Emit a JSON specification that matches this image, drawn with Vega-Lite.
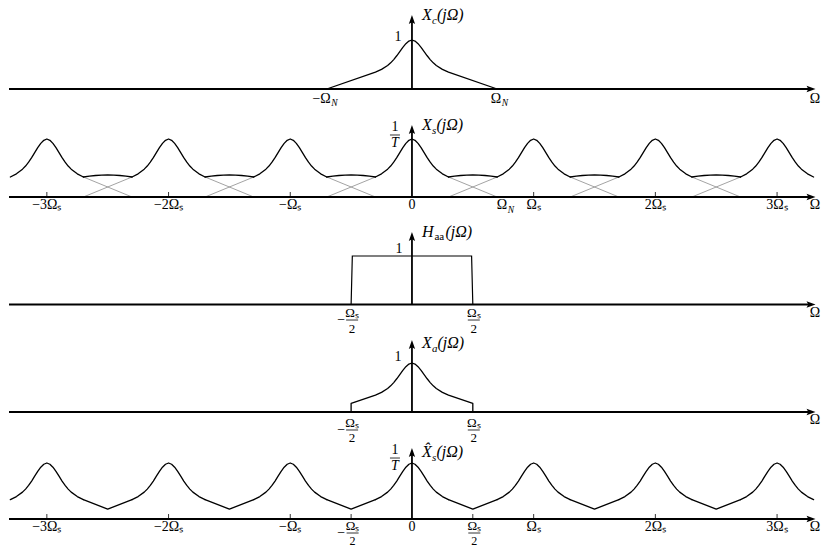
{
"$schema": "https://vega.github.io/schema/vega-lite/v6.json",
"padding": 0,
"spacing": 0,
"bounds": "flush",
"background": "white",
"config": {"view": {"stroke": null}, "font": "Liberation Serif", "mark": {"font": "Liberation Serif"}, "text": {"font": "Liberation Serif", "color": "black", "fill": "black"}},
"datasets": {
"c1": [{"w":-0.7,"v":0},{"w":-0.3,"v":0.345},{"w":-0.25,"v":0.4},{"w":-0.2,"v":0.48},{"w":-0.175,"v":0.534},{"w":-0.15,"v":0.6},{"w":-0.125,"v":0.678},{"w":-0.1,"v":0.765},{"w":-0.075,"v":0.85},{"w":-0.05,"v":0.925},{"w":-0.025,"v":0.978},{"w":0,"v":1},{"w":0.025,"v":0.978},{"w":0.05,"v":0.925},{"w":0.075,"v":0.85},{"w":0.1,"v":0.765},{"w":0.125,"v":0.678},{"w":0.15,"v":0.6},{"w":0.175,"v":0.534},{"w":0.2,"v":0.48},{"w":0.25,"v":0.4},{"w":0.3,"v":0.345},{"w":0.7,"v":0}],
"c3": [{"w":-0.5,"v":0},{"w":-0.49,"v":1},{"w":0.49,"v":1},{"w":0.5,"v":0}],
"c4": [{"w":-0.5,"v":0},{"w":-0.5,"v":0.175},{"w":-0.3,"v":0.345},{"w":-0.25,"v":0.4},{"w":-0.2,"v":0.48},{"w":-0.175,"v":0.534},{"w":-0.15,"v":0.6},{"w":-0.125,"v":0.678},{"w":-0.1,"v":0.765},{"w":-0.075,"v":0.85},{"w":-0.05,"v":0.925},{"w":-0.025,"v":0.978},{"w":0,"v":1},{"w":0.025,"v":0.978},{"w":0.05,"v":0.925},{"w":0.075,"v":0.85},{"w":0.1,"v":0.765},{"w":0.125,"v":0.678},{"w":0.15,"v":0.6},{"w":0.175,"v":0.534},{"w":0.2,"v":0.48},{"w":0.25,"v":0.4},{"w":0.3,"v":0.345},{"w":0.5,"v":0.175},{"w":0.5,"v":0}],
"rep": [
{"k":-3,"w":-3.3,"v":0.345},{"k":-3,"w":-3.25,"v":0.4},{"k":-3,"w":-3.2,"v":0.48},{"k":-3,"w":-3.175,"v":0.534},{"k":-3,"w":-3.15,"v":0.6},{"k":-3,"w":-3.125,"v":0.678},{"k":-3,"w":-3.1,"v":0.765},{"k":-3,"w":-3.075,"v":0.85},{"k":-3,"w":-3.05,"v":0.925},{"k":-3,"w":-3.025,"v":0.978},{"k":-3,"w":-3,"v":1},{"k":-3,"w":-2.975,"v":0.978},{"k":-3,"w":-2.95,"v":0.925},{"k":-3,"w":-2.925,"v":0.85},{"k":-3,"w":-2.9,"v":0.765},{"k":-3,"w":-2.875,"v":0.678},{"k":-3,"w":-2.85,"v":0.6},{"k":-3,"w":-2.825,"v":0.534},{"k":-3,"w":-2.8,"v":0.48},{"k":-3,"w":-2.75,"v":0.4},{"k":-3,"w":-2.7,"v":0.345},
{"k":-2,"w":-2.3,"v":0.345},{"k":-2,"w":-2.25,"v":0.4},{"k":-2,"w":-2.2,"v":0.48},{"k":-2,"w":-2.175,"v":0.534},{"k":-2,"w":-2.15,"v":0.6},{"k":-2,"w":-2.125,"v":0.678},{"k":-2,"w":-2.1,"v":0.765},{"k":-2,"w":-2.075,"v":0.85},{"k":-2,"w":-2.05,"v":0.925},{"k":-2,"w":-2.025,"v":0.978},{"k":-2,"w":-2,"v":1},{"k":-2,"w":-1.975,"v":0.978},{"k":-2,"w":-1.95,"v":0.925},{"k":-2,"w":-1.925,"v":0.85},{"k":-2,"w":-1.9,"v":0.765},{"k":-2,"w":-1.875,"v":0.678},{"k":-2,"w":-1.85,"v":0.6},{"k":-2,"w":-1.825,"v":0.534},{"k":-2,"w":-1.8,"v":0.48},{"k":-2,"w":-1.75,"v":0.4},{"k":-2,"w":-1.7,"v":0.345},
{"k":-1,"w":-1.3,"v":0.345},{"k":-1,"w":-1.25,"v":0.4},{"k":-1,"w":-1.2,"v":0.48},{"k":-1,"w":-1.175,"v":0.534},{"k":-1,"w":-1.15,"v":0.6},{"k":-1,"w":-1.125,"v":0.678},{"k":-1,"w":-1.1,"v":0.765},{"k":-1,"w":-1.075,"v":0.85},{"k":-1,"w":-1.05,"v":0.925},{"k":-1,"w":-1.025,"v":0.978},{"k":-1,"w":-1,"v":1},{"k":-1,"w":-0.975,"v":0.978},{"k":-1,"w":-0.95,"v":0.925},{"k":-1,"w":-0.925,"v":0.85},{"k":-1,"w":-0.9,"v":0.765},{"k":-1,"w":-0.875,"v":0.678},{"k":-1,"w":-0.85,"v":0.6},{"k":-1,"w":-0.825,"v":0.534},{"k":-1,"w":-0.8,"v":0.48},{"k":-1,"w":-0.75,"v":0.4},{"k":-1,"w":-0.7,"v":0.345},
{"k":0,"w":-0.3,"v":0.345},{"k":0,"w":-0.25,"v":0.4},{"k":0,"w":-0.2,"v":0.48},{"k":0,"w":-0.175,"v":0.534},{"k":0,"w":-0.15,"v":0.6},{"k":0,"w":-0.125,"v":0.678},{"k":0,"w":-0.1,"v":0.765},{"k":0,"w":-0.075,"v":0.85},{"k":0,"w":-0.05,"v":0.925},{"k":0,"w":-0.025,"v":0.978},{"k":0,"w":0,"v":1},{"k":0,"w":0.025,"v":0.978},{"k":0,"w":0.05,"v":0.925},{"k":0,"w":0.075,"v":0.85},{"k":0,"w":0.1,"v":0.765},{"k":0,"w":0.125,"v":0.678},{"k":0,"w":0.15,"v":0.6},{"k":0,"w":0.175,"v":0.534},{"k":0,"w":0.2,"v":0.48},{"k":0,"w":0.25,"v":0.4},{"k":0,"w":0.3,"v":0.345},
{"k":1,"w":0.7,"v":0.345},{"k":1,"w":0.75,"v":0.4},{"k":1,"w":0.8,"v":0.48},{"k":1,"w":0.825,"v":0.534},{"k":1,"w":0.85,"v":0.6},{"k":1,"w":0.875,"v":0.678},{"k":1,"w":0.9,"v":0.765},{"k":1,"w":0.925,"v":0.85},{"k":1,"w":0.95,"v":0.925},{"k":1,"w":0.975,"v":0.978},{"k":1,"w":1,"v":1},{"k":1,"w":1.025,"v":0.978},{"k":1,"w":1.05,"v":0.925},{"k":1,"w":1.075,"v":0.85},{"k":1,"w":1.1,"v":0.765},{"k":1,"w":1.125,"v":0.678},{"k":1,"w":1.15,"v":0.6},{"k":1,"w":1.175,"v":0.534},{"k":1,"w":1.2,"v":0.48},{"k":1,"w":1.25,"v":0.4},{"k":1,"w":1.3,"v":0.345},
{"k":2,"w":1.7,"v":0.345},{"k":2,"w":1.75,"v":0.4},{"k":2,"w":1.8,"v":0.48},{"k":2,"w":1.825,"v":0.534},{"k":2,"w":1.85,"v":0.6},{"k":2,"w":1.875,"v":0.678},{"k":2,"w":1.9,"v":0.765},{"k":2,"w":1.925,"v":0.85},{"k":2,"w":1.95,"v":0.925},{"k":2,"w":1.975,"v":0.978},{"k":2,"w":2,"v":1},{"k":2,"w":2.025,"v":0.978},{"k":2,"w":2.05,"v":0.925},{"k":2,"w":2.075,"v":0.85},{"k":2,"w":2.1,"v":0.765},{"k":2,"w":2.125,"v":0.678},{"k":2,"w":2.15,"v":0.6},{"k":2,"w":2.175,"v":0.534},{"k":2,"w":2.2,"v":0.48},{"k":2,"w":2.25,"v":0.4},{"k":2,"w":2.3,"v":0.345},
{"k":3,"w":2.7,"v":0.345},{"k":3,"w":2.75,"v":0.4},{"k":3,"w":2.8,"v":0.48},{"k":3,"w":2.825,"v":0.534},{"k":3,"w":2.85,"v":0.6},{"k":3,"w":2.875,"v":0.678},{"k":3,"w":2.9,"v":0.765},{"k":3,"w":2.925,"v":0.85},{"k":3,"w":2.95,"v":0.925},{"k":3,"w":2.975,"v":0.978},{"k":3,"w":3,"v":1},{"k":3,"w":3.025,"v":0.978},{"k":3,"w":3.05,"v":0.925},{"k":3,"w":3.075,"v":0.85},{"k":3,"w":3.1,"v":0.765},{"k":3,"w":3.125,"v":0.678},{"k":3,"w":3.15,"v":0.6},{"k":3,"w":3.175,"v":0.534},{"k":3,"w":3.2,"v":0.48},{"k":3,"w":3.25,"v":0.4},{"k":3,"w":3.3,"v":0.345}
],
"arc": [
{"g":-3,"w":-2.7,"v":0.345},{"g":-3,"w":-2.65,"v":0.36},{"g":-3,"w":-2.6,"v":0.371},{"g":-3,"w":-2.55,"v":0.378},{"g":-3,"w":-2.5,"v":0.38},{"g":-3,"w":-2.45,"v":0.378},{"g":-3,"w":-2.4,"v":0.371},{"g":-3,"w":-2.35,"v":0.36},{"g":-3,"w":-2.3,"v":0.345},
{"g":-2,"w":-1.7,"v":0.345},{"g":-2,"w":-1.65,"v":0.36},{"g":-2,"w":-1.6,"v":0.371},{"g":-2,"w":-1.55,"v":0.378},{"g":-2,"w":-1.5,"v":0.38},{"g":-2,"w":-1.45,"v":0.378},{"g":-2,"w":-1.4,"v":0.371},{"g":-2,"w":-1.35,"v":0.36},{"g":-2,"w":-1.3,"v":0.345},
{"g":-1,"w":-0.7,"v":0.345},{"g":-1,"w":-0.65,"v":0.36},{"g":-1,"w":-0.6,"v":0.371},{"g":-1,"w":-0.55,"v":0.378},{"g":-1,"w":-0.5,"v":0.38},{"g":-1,"w":-0.45,"v":0.378},{"g":-1,"w":-0.4,"v":0.371},{"g":-1,"w":-0.35,"v":0.36},{"g":-1,"w":-0.3,"v":0.345},
{"g":0,"w":0.3,"v":0.345},{"g":0,"w":0.35,"v":0.36},{"g":0,"w":0.4,"v":0.371},{"g":0,"w":0.45,"v":0.378},{"g":0,"w":0.5,"v":0.38},{"g":0,"w":0.55,"v":0.378},{"g":0,"w":0.6,"v":0.371},{"g":0,"w":0.65,"v":0.36},{"g":0,"w":0.7,"v":0.345},
{"g":1,"w":1.3,"v":0.345},{"g":1,"w":1.35,"v":0.36},{"g":1,"w":1.4,"v":0.371},{"g":1,"w":1.45,"v":0.378},{"g":1,"w":1.5,"v":0.38},{"g":1,"w":1.55,"v":0.378},{"g":1,"w":1.6,"v":0.371},{"g":1,"w":1.65,"v":0.36},{"g":1,"w":1.7,"v":0.345},
{"g":2,"w":2.3,"v":0.345},{"g":2,"w":2.35,"v":0.36},{"g":2,"w":2.4,"v":0.371},{"g":2,"w":2.45,"v":0.378},{"g":2,"w":2.5,"v":0.38},{"g":2,"w":2.55,"v":0.378},{"g":2,"w":2.6,"v":0.371},{"g":2,"w":2.65,"v":0.36},{"g":2,"w":2.7,"v":0.345}
],
"dip": [
{"g":-3,"w":-2.7,"v":0.345},{"g":-3,"w":-2.5,"v":0.175},{"g":-3,"w":-2.3,"v":0.345},
{"g":-2,"w":-1.7,"v":0.345},{"g":-2,"w":-1.5,"v":0.175},{"g":-2,"w":-1.3,"v":0.345},
{"g":-1,"w":-0.7,"v":0.345},{"g":-1,"w":-0.5,"v":0.175},{"g":-1,"w":-0.3,"v":0.345},
{"g":0,"w":0.3,"v":0.345},{"g":0,"w":0.5,"v":0.175},{"g":0,"w":0.7,"v":0.345},
{"g":1,"w":1.3,"v":0.345},{"g":1,"w":1.5,"v":0.175},{"g":1,"w":1.7,"v":0.345},
{"g":2,"w":2.3,"v":0.345},{"g":2,"w":2.5,"v":0.175},{"g":2,"w":2.7,"v":0.345}
],
"gray": [
{"s":"a-3","w":-2.7,"v":0.345},{"s":"a-3","w":-2.3,"v":0},{"s":"b-3","w":-2.7,"v":0},{"s":"b-3","w":-2.3,"v":0.345},
{"s":"a-2","w":-1.7,"v":0.345},{"s":"a-2","w":-1.3,"v":0},{"s":"b-2","w":-1.7,"v":0},{"s":"b-2","w":-1.3,"v":0.345},
{"s":"a-1","w":-0.7,"v":0.345},{"s":"a-1","w":-0.3,"v":0},{"s":"b-1","w":-0.7,"v":0},{"s":"b-1","w":-0.3,"v":0.345},
{"s":"a0","w":0.3,"v":0.345},{"s":"a0","w":0.7,"v":0},{"s":"b0","w":0.3,"v":0},{"s":"b0","w":0.7,"v":0.345},
{"s":"a1","w":1.3,"v":0.345},{"s":"a1","w":1.7,"v":0},{"s":"b1","w":1.3,"v":0},{"s":"b1","w":1.7,"v":0.345},
{"s":"a2","w":2.3,"v":0.345},{"s":"a2","w":2.7,"v":0},{"s":"b2","w":2.3,"v":0},{"s":"b2","w":2.7,"v":0.345}
]
},
"vconcat": [
{
"width": 821, "height": 108,
"encoding": {
"x": {"field":"w","type":"quantitative","scale":{"domain":[-3.385,3.361],"nice":false,"zero":false},"axis":null},
"y": {"field":"v","type":"quantitative","scale":{"domain":[-0.3878,1.8163],"nice":false,"zero":false},"axis":null}
},
"layer": [
{"data":{"name":"c1"},"mark":{"type":"line","color":"black","strokeWidth":1.3,"strokeJoin":"round"}},
{"data":{"values":[{"w":-3.311,"w2":3.28,"v":0}]},"mark":{"type":"rule","color":"black","strokeWidth":1.8},"encoding":{"x2":{"field":"w2"}}},
{"data":{"values":[{"w":0,"v":0,"v2":1.418}]},"mark":{"type":"rule","color":"black","strokeWidth":1.8},"encoding":{"y2":{"field":"v2"}}},
{"data":{"values":[{"w":0,"v":1.418}]},"mark":{"type":"point","shape":"M0,-1L0.7,1L0,0.6L-0.7,1Z","filled":true,"color":"black","opacity":1,"size":81}},
{"data":{"values":[{"w":3.279,"v":0}]},"mark":{"type":"point","shape":"M1,0L-1,0.7L-0.6,0L-1,-0.7Z","filled":true,"color":"black","opacity":1,"size":81}},
{"data":{"values":[{"w":0,"v":1.061,"t":"1"}]},"mark":{"type":"text","font":"Liberation Serif","color":"black","align":"center","baseline":"middle","dx":-14,"fontSize":14},"encoding":{"text":{"field":"t"}}},
{"data":{"values":[{"w":0,"v":1.51,"t":"X"}]},"mark":{"type":"text","font":"Liberation Serif","color":"black","align":"left","baseline":"middle","dx":10,"fontSize":16,"fontStyle":"italic"},"encoding":{"text":{"field":"t"}}},
{"data":{"values":[{"w":0,"v":1.51,"t":"c"}]},"mark":{"type":"text","font":"Liberation Serif","color":"black","align":"left","baseline":"middle","dx":20,"dy":5.5,"fontSize":11,"fontStyle":"italic"},"encoding":{"text":{"field":"t"}}},
{"data":{"values":[{"w":0,"v":1.51,"t":"(jΩ)"}]},"mark":{"type":"text","font":"Liberation Serif","color":"black","align":"left","baseline":"middle","dx":25,"fontSize":16,"fontStyle":"italic"},"encoding":{"text":{"field":"t"}}},
{"data":{"values":[{"w":-0.7,"v":0,"t":"−Ω"},{"w":0.7,"v":0,"t":"Ω"}]},"mark":{"type":"text","font":"Liberation Serif","color":"black","align":"right","baseline":"top","dx":4,"dy":3,"fontSize":14},"encoding":{"text":{"field":"t"}}},
{"data":{"values":[{"w":-0.7,"v":0,"t":"N"},{"w":0.7,"v":0,"t":"N"}]},"mark":{"type":"text","font":"Liberation Serif","color":"black","align":"left","baseline":"top","dx":4.5,"dy":9.5,"fontSize":9.5,"fontStyle":"italic"},"encoding":{"text":{"field":"t"}}},
{"data":{"values":[{"w":3.311,"v":0,"t":"Ω"}]},"mark":{"type":"text","font":"Liberation Serif","color":"black","align":"center","baseline":"top","dy":3,"fontSize":14},"encoding":{"text":{"field":"t"}}}
]
},
{
"width": 821, "height": 107,
"encoding": {
"x": {"field":"w","type":"quantitative","scale":{"domain":[-3.385,3.361],"nice":false,"zero":false},"axis":null},
"y": {"field":"v","type":"quantitative","scale":{"domain":[-0.3103,1.5345],"nice":false,"zero":false},"axis":null}
},
"layer": [
{"data":{"name":"gray"},"mark":{"type":"line","color":"#8c8c8c","strokeWidth":0.8},"encoding":{"detail":{"field":"s"}}},
{"data":{"name":"arc"},"mark":{"type":"line","color":"black","strokeWidth":1.3,"strokeCap":"round","strokeJoin":"round"},"encoding":{"detail":{"field":"g"}}},
{"data":{"name":"rep"},"mark":{"type":"line","color":"black","strokeWidth":1.3,"strokeCap":"round","strokeJoin":"round"},"encoding":{"detail":{"field":"k"}}},
{"data":{"values":[{"w":-3.311,"w2":3.28,"v":0}]},"mark":{"type":"rule","color":"black","strokeWidth":1.8},"encoding":{"x2":{"field":"w2"}}},
{"data":{"values":[{"w":0,"v":0,"v2":1.164}]},"mark":{"type":"rule","color":"black","strokeWidth":1.8},"encoding":{"y2":{"field":"v2"}}},
{"data":{"values":[{"w":0,"v":1.164}]},"mark":{"type":"point","shape":"M0,-1L0.7,1L0,0.6L-0.7,1Z","filled":true,"color":"black","opacity":1,"size":81}},
{"data":{"values":[{"w":3.279,"v":0}]},"mark":{"type":"point","shape":"M1,0L-1,0.7L-0.6,0L-1,-0.7Z","filled":true,"color":"black","opacity":1,"size":81}},
{"data":{"values":[{"w":-3,"v":0,"v2":0.086},{"w":-2,"v":0,"v2":0.086},{"w":-1,"v":0,"v2":0.086},{"w":1,"v":0,"v2":0.086},{"w":2,"v":0,"v2":0.086},{"w":3,"v":0,"v2":0.086}]},"mark":{"type":"rule","color":"black","strokeWidth":0.8},"encoding":{"y2":{"field":"v2"}}},
{"data":{"values":[{"w":-3,"v":0,"t":"−3Ωₛ"},{"w":-2,"v":0,"t":"−2Ωₛ"},{"w":-1,"v":0,"t":"−Ωₛ"},{"w":0,"v":0,"t":"0"},{"w":1,"v":0,"t":"Ωₛ"},{"w":2,"v":0,"t":"2Ωₛ"},{"w":3,"v":0,"t":"3Ωₛ"},{"w":3.311,"v":0,"t":"Ω"}]},"mark":{"type":"text","font":"Liberation Serif","color":"black","align":"center","baseline":"top","dy":1,"fontSize":14},"encoding":{"text":{"field":"t"}}},
{"data":{"values":[{"w":0.7,"v":0,"t":"Ω"}]},"mark":{"type":"text","font":"Liberation Serif","color":"black","align":"right","baseline":"top","dx":10,"dy":1,"fontSize":14},"encoding":{"text":{"field":"t"}}},
{"data":{"values":[{"w":0.7,"v":0,"t":"N"}]},"mark":{"type":"text","font":"Liberation Serif","color":"black","align":"left","baseline":"top","dx":10.5,"dy":7.5,"fontSize":9.5,"fontStyle":"italic"},"encoding":{"text":{"field":"t"}}},
{"data":{"values":[{"w":0,"v":1.069,"t":"1"}]},"mark":{"type":"text","font":"Liberation Serif","color":"black","align":"center","baseline":"middle","dx":-17,"dy":-7.5,"fontSize":14},"encoding":{"text":{"field":"t"}}},
{"data":{"values":[{"w":0,"v":1.069}]},"mark":{"type":"point","shape":"M-1,0L1,0","filled":false,"color":"black","strokeWidth":0.8,"opacity":1,"size":100,"xOffset":-17}},
{"data":{"values":[{"w":0,"v":1.069,"t":"T"}]},"mark":{"type":"text","font":"Liberation Serif","color":"black","align":"center","baseline":"middle","dx":-17,"dy":8.5,"fontSize":14,"fontStyle":"italic"},"encoding":{"text":{"field":"t"}}},
{"data":{"values":[{"w":0,"v":1.241,"t":"X"}]},"mark":{"type":"text","font":"Liberation Serif","color":"black","align":"left","baseline":"middle","dx":10,"fontSize":16,"fontStyle":"italic"},"encoding":{"text":{"field":"t"}}},
{"data":{"values":[{"w":0,"v":1.241,"t":"s"}]},"mark":{"type":"text","font":"Liberation Serif","color":"black","align":"left","baseline":"middle","dx":20,"dy":5.5,"fontSize":11,"fontStyle":"italic"},"encoding":{"text":{"field":"t"}}},
{"data":{"values":[{"w":0,"v":1.241,"t":"(jΩ)"}]},"mark":{"type":"text","font":"Liberation Serif","color":"black","align":"left","baseline":"middle","dx":24.5,"fontSize":16,"fontStyle":"italic"},"encoding":{"text":{"field":"t"}}}
]
},
{
"width": 821, "height": 108,
"encoding": {
"x": {"field":"w","type":"quantitative","scale":{"domain":[-3.385,3.361],"nice":false,"zero":false},"axis":null},
"y": {"field":"v","type":"quantitative","scale":{"domain":[-0.3814,1.8454],"nice":false,"zero":false},"axis":null}
},
"layer": [
{"data":{"name":"c3"},"mark":{"type":"line","color":"black","strokeWidth":1.2},"encoding":{"order":{"value":null}}},
{"data":{"values":[{"w":-3.311,"w2":3.28,"v":0}]},"mark":{"type":"rule","color":"black","strokeWidth":1.8},"encoding":{"x2":{"field":"w2"}}},
{"data":{"values":[{"w":0,"v":0,"v2":1.402}]},"mark":{"type":"rule","color":"black","strokeWidth":1.8},"encoding":{"y2":{"field":"v2"}}},
{"data":{"values":[{"w":0,"v":1.402}]},"mark":{"type":"point","shape":"M0,-1L0.7,1L0,0.6L-0.7,1Z","filled":true,"color":"black","opacity":1,"size":81}},
{"data":{"values":[{"w":3.279,"v":0}]},"mark":{"type":"point","shape":"M1,0L-1,0.7L-0.6,0L-1,-0.7Z","filled":true,"color":"black","opacity":1,"size":81}},
{"data":{"values":[{"w":0,"v":1.144,"t":"1"}]},"mark":{"type":"text","font":"Liberation Serif","color":"black","align":"center","baseline":"middle","dx":-13,"fontSize":14},"encoding":{"text":{"field":"t"}}},
{"data":{"values":[{"w":-0.5,"v":-0.32,"t":"Ωₛ"},{"w":0.5,"v":-0.32,"t":"Ωₛ"}]},"mark":{"type":"text","font":"Liberation Serif","color":"black","align":"center","baseline":"middle","dx":1,"dy":-7,"fontSize":13},"encoding":{"text":{"field":"t"}}},
{"data":{"values":[{"w":-0.5,"v":-0.32},{"w":0.5,"v":-0.32}]},"mark":{"type":"point","shape":"M-1,0L1,0","filled":false,"color":"black","strokeWidth":0.8,"opacity":1,"size":144,"xOffset":1}},
{"data":{"values":[{"w":-0.5,"v":-0.32,"t":"2"},{"w":0.5,"v":-0.32,"t":"2"}]},"mark":{"type":"text","font":"Liberation Serif","color":"black","align":"center","baseline":"middle","dx":1,"dy":9,"fontSize":13},"encoding":{"text":{"field":"t"}}},
{"data":{"values":[{"w":-0.5,"v":-0.32,"t":"−"}]},"mark":{"type":"text","font":"Liberation Serif","color":"black","align":"center","baseline":"middle","dx":-10,"fontSize":14},"encoding":{"text":{"field":"t"}}},
{"data":{"values":[{"w":3.311,"v":0,"t":"Ω"}]},"mark":{"type":"text","font":"Liberation Serif","color":"black","align":"center","baseline":"top","dy":1,"fontSize":14},"encoding":{"text":{"field":"t"}}},
{"data":{"values":[{"w":0,"v":1.495,"t":"H"}]},"mark":{"type":"text","font":"Liberation Serif","color":"black","align":"left","baseline":"middle","dx":10,"fontSize":16,"fontStyle":"italic"},"encoding":{"text":{"field":"t"}}},
{"data":{"values":[{"w":0,"v":1.495,"t":"aa"}]},"mark":{"type":"text","font":"Liberation Serif","color":"black","align":"left","baseline":"middle","dx":22.5,"dy":5.5,"fontSize":11},"encoding":{"text":{"field":"t"}}},
{"data":{"values":[{"w":0,"v":1.495,"t":"(jΩ)"}]},"mark":{"type":"text","font":"Liberation Serif","color":"black","align":"left","baseline":"middle","dx":33.5,"fontSize":16,"fontStyle":"italic"},"encoding":{"text":{"field":"t"}}}
]
},
{
"width": 821, "height": 107,
"encoding": {
"x": {"field":"w","type":"quantitative","scale":{"domain":[-3.385,3.361],"nice":false,"zero":false},"axis":null},
"y": {"field":"v","type":"quantitative","scale":{"domain":[-0.3673,1.8163],"nice":false,"zero":false},"axis":null}
},
"layer": [
{"data":{"name":"c4"},"mark":{"type":"line","color":"black","strokeWidth":1.3,"strokeJoin":"round"},"encoding":{"order":{"value":null}}},
{"data":{"values":[{"w":-3.311,"w2":3.28,"v":0}]},"mark":{"type":"rule","color":"black","strokeWidth":1.8},"encoding":{"x2":{"field":"w2"}}},
{"data":{"values":[{"w":0,"v":0,"v2":1.378}]},"mark":{"type":"rule","color":"black","strokeWidth":1.8},"encoding":{"y2":{"field":"v2"}}},
{"data":{"values":[{"w":0,"v":1.378}]},"mark":{"type":"point","shape":"M0,-1L0.7,1L0,0.6L-0.7,1Z","filled":true,"color":"black","opacity":1,"size":81}},
{"data":{"values":[{"w":3.279,"v":0}]},"mark":{"type":"point","shape":"M1,0L-1,0.7L-0.6,0L-1,-0.7Z","filled":true,"color":"black","opacity":1,"size":81}},
{"data":{"values":[{"w":0,"v":1.122,"t":"1"}]},"mark":{"type":"text","font":"Liberation Serif","color":"black","align":"center","baseline":"middle","dx":-14,"fontSize":14},"encoding":{"text":{"field":"t"}}},
{"data":{"values":[{"w":-0.5,"v":-0.367,"t":"Ωₛ"},{"w":0.5,"v":-0.367,"t":"Ωₛ"}]},"mark":{"type":"text","font":"Liberation Serif","color":"black","align":"center","baseline":"middle","dx":1,"dy":-7,"fontSize":13},"encoding":{"text":{"field":"t"}}},
{"data":{"values":[{"w":-0.5,"v":-0.367},{"w":0.5,"v":-0.367}]},"mark":{"type":"point","shape":"M-1,0L1,0","filled":false,"color":"black","strokeWidth":0.8,"opacity":1,"size":144,"xOffset":1}},
{"data":{"values":[{"w":-0.5,"v":-0.367,"t":"2"},{"w":0.5,"v":-0.367,"t":"2"}]},"mark":{"type":"text","font":"Liberation Serif","color":"black","align":"center","baseline":"middle","dx":1,"dy":8.5,"fontSize":13},"encoding":{"text":{"field":"t"}}},
{"data":{"values":[{"w":-0.5,"v":-0.367,"t":"−"}]},"mark":{"type":"text","font":"Liberation Serif","color":"black","align":"center","baseline":"middle","dx":-10,"fontSize":14},"encoding":{"text":{"field":"t"}}},
{"data":{"values":[{"w":3.311,"v":0,"t":"Ω"}]},"mark":{"type":"text","font":"Liberation Serif","color":"black","align":"center","baseline":"top","dy":1,"fontSize":14},"encoding":{"text":{"field":"t"}}},
{"data":{"values":[{"w":0,"v":1.408,"t":"X"}]},"mark":{"type":"text","font":"Liberation Serif","color":"black","align":"left","baseline":"middle","dx":10,"fontSize":16,"fontStyle":"italic"},"encoding":{"text":{"field":"t"}}},
{"data":{"values":[{"w":0,"v":1.408,"t":"a"}]},"mark":{"type":"text","font":"Liberation Serif","color":"black","align":"left","baseline":"middle","dx":20,"dy":5.5,"fontSize":11,"fontStyle":"italic"},"encoding":{"text":{"field":"t"}}},
{"data":{"values":[{"w":0,"v":1.408,"t":"(jΩ)"}]},"mark":{"type":"text","font":"Liberation Serif","color":"black","align":"left","baseline":"middle","dx":25.5,"fontSize":16,"fontStyle":"italic"},"encoding":{"text":{"field":"t"}}}
]
},
{
"width": 821, "height": 119,
"encoding": {
"x": {"field":"w","type":"quantitative","scale":{"domain":[-3.385,3.361],"nice":false,"zero":false},"axis":null},
"y": {"field":"v","type":"quantitative","scale":{"domain":[-0.5357,1.5893],"nice":false,"zero":false},"axis":null}
},
"layer": [
{"data":{"name":"dip"},"mark":{"type":"line","color":"black","strokeWidth":1.3,"strokeCap":"round","strokeJoin":"round"},"encoding":{"detail":{"field":"g"}}},
{"data":{"name":"rep"},"mark":{"type":"line","color":"black","strokeWidth":1.3,"strokeCap":"round","strokeJoin":"round"},"encoding":{"detail":{"field":"k"}}},
{"data":{"values":[{"w":-3.311,"w2":3.28,"v":0}]},"mark":{"type":"rule","color":"black","strokeWidth":1.8},"encoding":{"x2":{"field":"w2"}}},
{"data":{"values":[{"w":0,"v":0,"v2":1.1875}]},"mark":{"type":"rule","color":"black","strokeWidth":1.8},"encoding":{"y2":{"field":"v2"}}},
{"data":{"values":[{"w":0,"v":1.1875}]},"mark":{"type":"point","shape":"M0,-1L0.7,1L0,0.6L-0.7,1Z","filled":true,"color":"black","opacity":1,"size":81}},
{"data":{"values":[{"w":3.279,"v":0}]},"mark":{"type":"point","shape":"M1,0L-1,0.7L-0.6,0L-1,-0.7Z","filled":true,"color":"black","opacity":1,"size":81}},
{"data":{"values":[{"w":-3,"v":0,"v2":0.089},{"w":-2,"v":0,"v2":0.089},{"w":-1,"v":0,"v2":0.089},{"w":-0.5,"v":0,"v2":0.089},{"w":0.5,"v":0,"v2":0.089},{"w":1,"v":0,"v2":0.089},{"w":2,"v":0,"v2":0.089},{"w":3,"v":0,"v2":0.089}]},"mark":{"type":"rule","color":"black","strokeWidth":0.8},"encoding":{"y2":{"field":"v2"}}},
{"data":{"values":[{"w":-3,"v":0,"t":"−3Ωₛ"},{"w":-2,"v":0,"t":"−2Ωₛ"},{"w":-1,"v":0,"t":"−Ωₛ"},{"w":0,"v":0,"t":"0"},{"w":1,"v":0,"t":"Ωₛ"},{"w":2,"v":0,"t":"2Ωₛ"},{"w":3,"v":0,"t":"3Ωₛ"},{"w":3.311,"v":0,"t":"Ω"}]},"mark":{"type":"text","font":"Liberation Serif","color":"black","align":"center","baseline":"top","dy":1,"fontSize":14},"encoding":{"text":{"field":"t"}}},
{"data":{"values":[{"w":-0.5,"v":-0.25,"t":"Ωₛ"},{"w":0.5,"v":-0.25,"t":"Ωₛ"}]},"mark":{"type":"text","font":"Liberation Serif","color":"black","align":"center","baseline":"middle","dx":1.5,"dy":-7,"fontSize":13},"encoding":{"text":{"field":"t"}}},
{"data":{"values":[{"w":-0.5,"v":-0.25},{"w":0.5,"v":-0.25}]},"mark":{"type":"point","shape":"M-1,0L1,0","filled":false,"color":"black","strokeWidth":0.8,"opacity":1,"size":144,"xOffset":1.5}},
{"data":{"values":[{"w":-0.5,"v":-0.25,"t":"2"},{"w":0.5,"v":-0.25,"t":"2"}]},"mark":{"type":"text","font":"Liberation Serif","color":"black","align":"center","baseline":"middle","dx":1.5,"dy":7.5,"fontSize":12},"encoding":{"text":{"field":"t"}}},
{"data":{"values":[{"w":-0.5,"v":-0.25,"t":"−"}]},"mark":{"type":"text","font":"Liberation Serif","color":"black","align":"center","baseline":"middle","dx":-10,"fontSize":14},"encoding":{"text":{"field":"t"}}},
{"data":{"values":[{"w":0,"v":1.089,"t":"1"}]},"mark":{"type":"text","font":"Liberation Serif","color":"black","align":"center","baseline":"middle","dx":-17,"dy":-8,"fontSize":14},"encoding":{"text":{"field":"t"}}},
{"data":{"values":[{"w":0,"v":1.089}]},"mark":{"type":"point","shape":"M-1,0L1,0","filled":false,"color":"black","strokeWidth":0.8,"opacity":1,"size":100,"xOffset":-17}},
{"data":{"values":[{"w":0,"v":1.089,"t":"T"}]},"mark":{"type":"text","font":"Liberation Serif","color":"black","align":"center","baseline":"middle","dx":-17,"dy":8,"fontSize":14,"fontStyle":"italic"},"encoding":{"text":{"field":"t"}}},
{"data":{"values":[{"w":0,"v":1.196,"t":"X̂"}]},"mark":{"type":"text","font":"Liberation Serif","color":"black","align":"left","baseline":"middle","dx":10,"fontSize":16,"fontStyle":"italic"},"encoding":{"text":{"field":"t"}}},
{"data":{"values":[{"w":0,"v":1.196,"t":"s"}]},"mark":{"type":"text","font":"Liberation Serif","color":"black","align":"left","baseline":"middle","dx":20,"dy":5.5,"fontSize":11,"fontStyle":"italic"},"encoding":{"text":{"field":"t"}}},
{"data":{"values":[{"w":0,"v":1.196,"t":"(jΩ)"}]},"mark":{"type":"text","font":"Liberation Serif","color":"black","align":"left","baseline":"middle","dx":24.5,"fontSize":16,"fontStyle":"italic"},"encoding":{"text":{"field":"t"}}}
]
}
]
}
